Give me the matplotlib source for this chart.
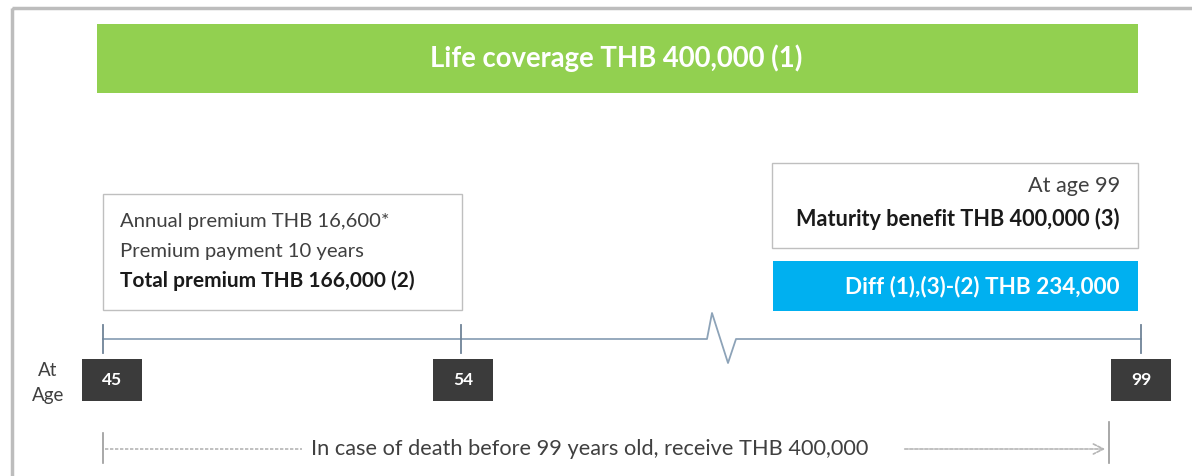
import matplotlib.pyplot as plt
from matplotlib.patches import Rectangle

plt.rcParams['font.family'] = ['Lato', 'DejaVu Sans']

# content
titel = 'Life coverage THB 400,000 (1)'
premie_regels = ['Annual premium THB 16,600*', 'Premium payment 10 years',
                 'Total premium THB 166,000 (2)']
premie_vet = [False, False, True]
einde_regels = ['At age 99', 'Maturity benefit THB 400,000 (3)']
einde_vet = [False, True]
verschil = 'Diff (1),(3)-(2) THB 234,000'
leeftijden = [45, 54, 99]
leeftijd_x = [112, 463, 1141]
onderschrift = 'In case of death before 99 years old, receive THB 400,000'

fig = plt.figure(figsize=(11.92, 4.76), dpi=100)
ax = fig.add_axes([0, 0, 1, 1])
ax.set_xlim(0, 1192)
ax.set_ylim(476, 0)
ax.axis('off')

# outer frame
ax.add_patch(Rectangle((12, 8), 1200, 480, fill=False, ec='#BDBDBD', lw=2.5))

# green bar
ax.add_patch(Rectangle((97, 24), 1041, 69, fc='#92D050', ec='none'))
ax.text(616, 58, titel, color='white', fontsize=19.8, fontweight='bold',
        ha='center', va='center')

# premium box
ax.add_patch(Rectangle((103, 194), 359, 116, fc='white', ec='#BFBFBF', lw=1))
for i, (r, b) in enumerate(zip(premie_regels, premie_vet)):
    ax.text(120, 221 + i * 30, r, fontsize=15 if b else 14.6,
            color='#1a1a1a' if b else '#404040',
            fontweight='bold' if b else 'normal', ha='left', va='center')

# maturity box
ax.add_patch(Rectangle((772, 163), 366, 85, fc='white', ec='#BFBFBF', lw=1))
for i, (r, b) in enumerate(zip(einde_regels, einde_vet)):
    ax.text(1120, 186 + i * 33, r, fontsize=15.6, color='#1a1a1a' if b else '#404040',
            fontweight='bold' if b else 'normal', ha='right', va='center')

# blue bar
ax.add_patch(Rectangle((773, 261), 365, 50, fc='#00B0F0', ec='none'))
ax.text(1120, 287, verschil, color='white', fontsize=16.2, fontweight='bold',
        ha='right', va='center')

# timeline with break
lijn = '#8DA3B8'
ax.plot([103, 707, 712, 728, 736, 1141], [339, 339, 313, 363, 339, 339], color=lijn, lw=1.3)
for x in [103, 461, 1141]:
    ax.plot([x, x], [325, 353], color='#6F8397', lw=1.3)

# age boxes
for a, x in zip(leeftijden, leeftijd_x):
    ax.add_patch(Rectangle((x - 30, 359), 60, 42, fc='#3B3B3B', ec='none'))
    ax.text(x, 380, str(a), color='white', fontsize=12.5, fontweight='bold',
            ha='center', va='center')
ax.text(48, 370, 'At', fontsize=13.5, color='#404040', ha='center', va='center')
ax.text(48, 396, 'Age', fontsize=13.5, color='#404040', ha='center', va='center')

# bottom caption with dashed arrow
ax.plot([103, 103], [433, 463], color='#9A9A9A', lw=1.2)
ax.plot([105, 302], [449, 449], color='#B5B5B5', lw=1.2, ls=(0, (2, 1)))
ax.text(590, 449, onderschrift, fontsize=15.7, color='#404040', ha='center', va='center')
ax.annotate('', xy=(1108, 449), xytext=(902, 449),
            arrowprops=dict(arrowstyle='->', color='#B5B5B5', lw=1.2, ls=(0, (2, 1)),
                            mutation_scale=18))
ax.plot([1109, 1109], [422, 463], color='#9A9A9A', lw=1.2)

fig.savefig('out.png', dpi=100, facecolor='white')
